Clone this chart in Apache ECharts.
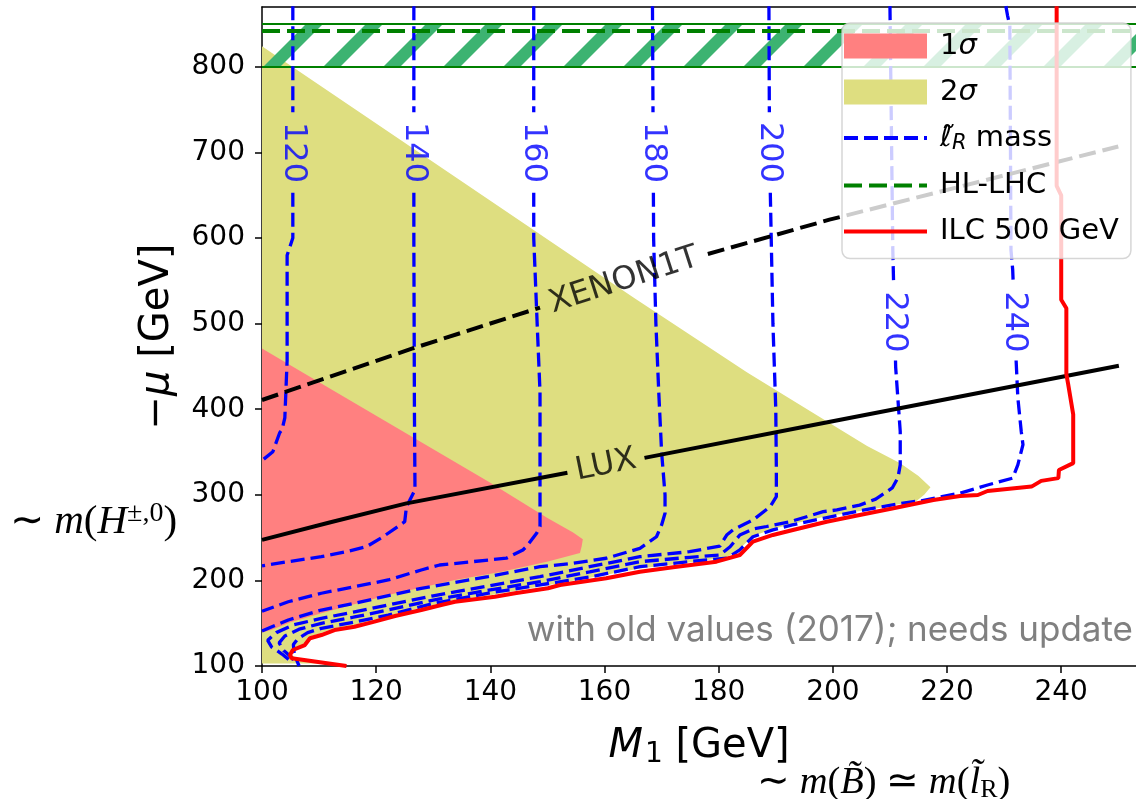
<!DOCTYPE html>
<html><head><meta charset="utf-8">
<script src="https://cdn.jsdelivr.net/npm/echarts@6/dist/echarts.min.js"></script>
<style>html,body{margin:0;padding:0;background:#fff}#c{width:1136px;height:799px}</style>
</head><body><div id="c"></div>
<script>
// ---------- data ----------
const xTicks = [100,120,140,160,180,200,220,240];
const yTicks = [100,200,300,400,500,600,700,800];
const XMIN = 100, XMAX = 253.1, YMIN = 100, YMAX = 870;

const contourLevels = [120,140,160,180,200,220,240];
const c120 = [[105.4,871],[105.4,600],[104.4,580],[104.4,457],[104,390],[103.5,376],[103.1,372.5],[101.9,350.4],[100,340]];
const c140 = [[126.6,871],[126.6,600],[126.7,400],[126.8,306],[125.3,286],[125,268.6],[121.2,251],[118.3,239.4],[114.8,233.6],[110.4,227.7],[104.6,221.9],[100,217]];
const c160 = [[147.6,871],[147.6,600],[148.2,500],[148.7,420],[148.7,263],[148.1,255],[146.3,239.4],[145.7,235.6],[142.8,226],[137,222],[131.1,218],[127.9,212.2],[122.1,200.5],[116.2,192.7],[110.4,185],[104.6,175.1],[100,164]];
const c180 = [[168.4,871],[168.6,600],[169,500],[169.5,420],[170,350],[170.6,300],[170.6,278.5],[170,264.8],[169.1,251],[166.2,237.5],[160.3,225.9],[154.5,220],[148.7,216],[139.6,204.4],[127.9,190.8],[116.2,173.3],[110.4,165.4],[104.6,153.8],[100,141]];
const c200 = [[188.8,871],[188.9,700],[189.5,500],[190,400],[190.1,330],[190.1,298],[189,286],[186,270.6],[182.5,259],[181.4,253],[180.2,240],[174.9,233.6],[166.2,227.7],[157.4,216],[148.7,204.4],[140,194],[130,182],[122.1,171.3],[116,163],[110.4,155.7],[105.5,148],[102.5,139],[101,130],[101.7,122],[103.5,114],[105,106]];
const c220 = [[210,871],[210.3,700],[210.5,586],[211,449],[211.5,402],[211.8,374],[211.8,335],[211.4,320],[210.4,308],[207.5,295],[204.7,288],[200.7,282.3],[198.3,280.3],[192.5,268.6],[188.4,263],[186,260],[183.7,253],[182,239.4],[180.2,229.7],[174.9,227],[166.2,221.9],[157.4,210],[148.7,198.6],[140,189],[130,177],[122.1,165.4],[116,157],[110.4,149.9],[106.5,143],[104,135],[103,127],[103.8,118],[105.2,110],[106,102]];
const c240 = [[230.3,871],[230.6,860],[231,848],[231.2,586],[231.5,563],[232.1,457],[232.4,413.5],[233,374],[233.3,358.7],[232.4,335],[231.5,319.5],[227.1,311.5],[222.3,302],[215.4,293],[212.9,291],[207,284.3],[198.3,272.6],[192.9,264.8],[189.5,259],[186,251],[183.7,235.6],[181.4,225.9],[174.9,222],[166.2,216],[157.4,204],[148.7,194.7],[140,185.5],[130,173],[122.1,159.6],[116,151],[110.4,144],[108,139],[106.3,132],[105.5,125],[105.6,117],[106,108],[106.5,100]];
const contours = [c120,c140,c160,c180,c200,c220,c240];
const contourLabelY = [700,700,700,700,700,502,502];

const ilc = [[239.2,871],[239.2,661],[240,650],[240,528],[240.9,518],[240.9,441],[241.2,430],[242.1,394],[242.1,337],[239.6,329],[239.5,319.5],[236.5,316.3],[234.8,309.6],[227.1,304.5],[225.4,299.8],[222.3,298.7],[217.6,294],[210.6,284.3],[204.7,276.5],[198.9,268.6],[193,258.9],[189.5,253.1],[186,245.3],[183.7,229.7],[179.6,221.9],[172,215.3],[166.2,210.2],[160.3,202.5],[152.2,194.7],[150.1,190.8],[144.3,185],[140.8,181],[133.8,175.1],[131.4,171.3],[127.9,165.4],[123.3,158.4],[119.7,151.8],[116.2,145.9],[112.7,142],[110.4,136.2],[108.4,132.4],[107.5,124.5],[105.4,118.7],[104.9,112.9],[105.2,109],[114.8,100]];

const xenon = [[100,410.8],[126.5,471.3],[176.7,578.7],[199.4,621.5],[250,707]];
const lux = [[100,247.3],[112,268],[125.3,290],[154.5,327],[197.7,383],[250.1,450.8]];
const hlLhcBand = [100, 800, XMAX, 850];
const hlLhcLine = 842;

const sigma2 = [[100,824],[165,531],[185,443],[197.7,391],[206,357],[211.8,337],[215,322],[217.1,309],[216,300],[214.7,293],[208.3,285],[198.3,274],[192.9,266],[189.5,260],[186,252],[183.7,237],[181.4,227],[174.9,221],[166.2,214],[157.4,203],[148.7,193],[140.8,183.5],[133.8,177],[127.9,168],[123.3,160.5],[119.7,154],[116.2,148],[112.7,144],[110.4,138.5],[108.4,134.5],[107.5,127],[106,121],[105.2,113],[106,109],[110,104],[110,103],[100,103]];
const sigma1 = [[100,471],[113,420],[126.5,367],[140,314],[150,273],[154.5,256],[156.2,248],[156,240],[155.7,232],[150.1,222],[142,210],[133.8,200.5],[122.1,183],[116,172],[110.4,161.6],[105,151],[101.6,142],[100,139]];

// ---------- helpers ----------
function cutGap(pts, k, lo, hi){
  const segs=[]; let cur=[];
  const ins = p => p[k]>lo && p[k]<hi;
  for (let i=0;i<pts.length;i++){
    const p=pts[i];
    if(i>0){
      const q=pts[i-1]; const cs=[];
      [lo,hi].forEach(v=>{ if((q[k]-v)*(p[k]-v)<0){ cs.push((v-q[k])/(p[k]-q[k])); } });
      cs.sort((a,b)=>a-b);
      let inside=ins(q);
      cs.forEach(t=>{
        const ip=[q[0]+t*(p[0]-q[0]), q[1]+t*(p[1]-q[1])];
        if(!inside){ cur.push(ip); segs.push(cur); cur=[]; inside=true; }
        else { cur=[ip]; inside=false; }
      });
    }
    if(!ins(p)) cur.push(p);
  }
  if(cur.length) segs.push(cur);
  return segs.filter(s=>s.length>1);
}
function interp(pts, k, v){
  for(let i=1;i<pts.length;i++){
    const q=pts[i-1], p=pts[i];
    if((q[k]-v)*(p[k]-v)<=0 && q[k]!==p[k]){
      const t=(v-q[k])/(p[k]-q[k]);
      return [q[0]+t*(p[0]-q[0]), q[1]+t*(p[1]-q[1])];
    }
  }
  return pts[0];
}

// hatch pattern
const tile = document.createElement('canvas');
tile.width = 60; tile.height = 60;
(function(){
  const g = tile.getContext('2d');
  g.fillStyle = '#3cb371';
  g.beginPath(); g.moveTo(30,0); g.lineTo(47,0); g.lineTo(0,47); g.lineTo(0,30); g.closePath(); g.fill();
  g.beginPath(); g.moveTo(60,30); g.lineTo(60,47); g.lineTo(47,60); g.lineTo(30,60); g.closePath(); g.fill();
})();

const FONT = 'DejaVu Sans';
const BLUE = '#0000ff', GREEN = '#008000', RED = '#ff0000';
const BLUE_DASH = [14,6], GREEN_DASH = [18,7], BLACK_DASH = [17,7];
const series = [];

function polySeries(name, pts, color, z){
  return {
    type:'custom', name, coordinateSystem:'cartesian2d', z, silent:true, clip:true,
    itemStyle:{color},
    data: pts,
    encode:{x:0,y:1},
    renderItem:(params, api)=>{
      if(params.dataIndex!==0) return null;
      return {type:'polygon', shape:{points: pts.map(p=>api.coord(p))}, style:{fill:color, stroke:null}};
    }
  };
}
series.push(polySeries('2σ', sigma2, '#dede80', 1));
series.push(polySeries('1σ', sigma1, '#ff8080', 1));

// hatched band
series.push({
  type:'custom', name:'band', coordinateSystem:'cartesian2d', z:1, silent:true, clip:true,
  data:[hlLhcBand],
  renderItem:(params, api)=>{
    const a = api.coord([api.value(0), api.value(3)]);
    const b = api.coord([api.value(2), api.value(1)]);
    return {type:'group', children:[
      {type:'rect', shape:{x:a[0], y:a[1], width:b[0]-a[0], height:b[1]-a[1]}, style:{fill:{image:tile, repeat:'repeat'}}},
      {type:'line', shape:{x1:a[0], y1:a[1], x2:b[0], y2:a[1]}, style:{stroke:GREEN, lineWidth:2}},
      {type:'line', shape:{x1:a[0], y1:b[1], x2:b[0], y2:b[1]}, style:{stroke:GREEN, lineWidth:2}}
    ]};
  }
});
series.push({
  type:'line', name:'HL-LHC', z:3, silent:true, symbol:'none',
  data:[[XMIN, hlLhcLine],[XMAX, hlLhcLine]],
  lineStyle:{color:GREEN, width:4, type:GREEN_DASH}, itemStyle:{color:GREEN}
});

// contours
const contourLabels = [];
contours.forEach((c,i)=>{
  const ly = contourLabelY[i];
  const gap = ly>600 ? 47 : 45;
  cutGap(c, 1, ly-gap, ly+gap).forEach(seg=>{
    series.push({type:'line', name:'lR', z:2, silent:true, symbol:'none', data:seg,
      lineStyle:{color:BLUE, width:3.3, type:BLUE_DASH}, itemStyle:{color:BLUE}});
  });
  const p = interp(c, 1, ly);
  contourLabels.push({value:[p[0], ly], name:String(contourLevels[i])});
});
series.push({
  type:'scatter', name:'clabels', z:3, silent:true, symbolSize:1, itemStyle:{color:'rgba(0,0,0,0)'},
  data: contourLabels,
  label:{show:true, position:'inside', formatter:p=>p.name, rotate:-90, color:BLUE, fontSize:32, fontFamily:FONT}
});

// XENON1T and LUX
const xenonGap = [148.7, 178.1], luxGap = [153.5, 167];
cutGap(xenon, 0, xenonGap[0], xenonGap[1]).forEach(seg=>{
  series.push({type:'line', name:'XENON1T', z:3, silent:true, symbol:'none', data:seg,
    lineStyle:{color:'#000', width:4, type:BLACK_DASH}});
});
cutGap(lux, 0, luxGap[0], luxGap[1]).forEach(seg=>{
  series.push({type:'line', name:'LUX', z:3, silent:true, symbol:'none', data:seg,
    lineStyle:{color:'#000', width:4}});
});
const xl = interp(xenon, 0, (xenonGap[0]+xenonGap[1])/2);
const ll = interp(lux, 0, (luxGap[0]+luxGap[1])/2);
series.push({
  type:'scatter', name:'llabels', z:3, silent:true, symbolSize:1, itemStyle:{color:'rgba(0,0,0,0)'},
  data:[
    {value:xl, name:'XENON1T', label:{rotate:18}},
    {value:ll, name:'LUX', label:{rotate:11.5}}
  ],
  label:{show:true, position:'inside', formatter:p=>p.name, color:'#000', fontSize:32, fontFamily:FONT}
});

// ILC
series.push({
  type:'line', name:'ILC 500 GeV', z:3, silent:true, symbol:'none', data:ilc,
  lineStyle:{color:RED, width:4}, itemStyle:{color:RED}
});

const hideSym = {color:'rgba(0,0,0,0)', borderColor:'rgba(0,0,0,0)', borderWidth:0};
const chart = echarts.init(document.getElementById('c'), null, {renderer:'canvas'});
chart.setOption({
  animation:false,
  grid:{left:262, right:0, top:7, bottom:133, show:false, containLabel:false},
  xAxis:[{
    type:'value', min:XMIN, max:XMAX, interval:20,
    axisLine:{onZero:false, lineStyle:{color:'#000', width:1.5}},
    axisTick:{length:7, lineStyle:{color:'#000', width:1.5}, customValues:xTicks},
    axisLabel:{customValues:xTicks, fontSize:28, color:'#000', fontFamily:FONT, margin:13},
    splitLine:{show:false},
    name:'{i|M}{s|1}{n| [GeV]}', nameLocation:'middle', nameGap:57,
    nameTextStyle:{rich:{
      i:{fontSize:40, fontStyle:'italic', fontFamily:FONT, color:'#000', lineHeight:48},
      s:{fontSize:28, fontFamily:FONT, color:'#000', padding:[16,0,0,2]},
      n:{fontSize:40, fontFamily:FONT, color:'#000', lineHeight:48}
    }}
  },{
    type:'value', position:'top', min:XMIN, max:XMAX,
    axisLine:{show:true, onZero:false, lineStyle:{color:'#000', width:1.5}},
    axisTick:{show:false}, axisLabel:{show:false}, splitLine:{show:false}
  }],
  yAxis:{
    type:'value', min:YMIN, max:YMAX, interval:100,
    axisLine:{onZero:false, lineStyle:{color:'#000', width:1.5}},
    axisTick:{length:7, lineStyle:{color:'#000', width:1.5}, customValues:yTicks},
    axisLabel:{customValues:yTicks, fontSize:28, color:'#000', fontFamily:FONT, margin:17},
    splitLine:{show:false},
    name:'{n|−}{i|μ}{n| [GeV]}', nameLocation:'middle', nameGap:80,
    nameTextStyle:{rich:{
      i:{fontSize:40, fontStyle:'italic', fontFamily:FONT, color:'#000', lineHeight:48},
      n:{fontSize:40, fontFamily:FONT, color:'#000', lineHeight:48}
    }}
  },
  legend:{
    z:20, orient:'vertical', left:842, top:23, itemWidth:83, itemHeight:25, itemGap:16,
    padding:[8,12,12,0], selectedMode:false,
    backgroundColor:'rgba(255,255,255,0.8)', borderColor:'rgba(204,204,204,0.8)', borderWidth:1.5, borderRadius:8,
    data:[
      {name:'1σ', icon:'rect'},
      {name:'2σ', icon:'rect'},
      {name:'lR', itemStyle:hideSym, lineStyle:{color:BLUE, width:4, type:BLUE_DASH}},
      {name:'HL-LHC', itemStyle:hideSym, lineStyle:{color:GREEN, width:4, type:GREEN_DASH}},
      {name:'ILC 500 GeV', itemStyle:hideSym, lineStyle:{color:RED, width:4}}
    ],
    formatter:n=>{
      if(n==='1σ') return '{n|1}{i|σ}';
      if(n==='2σ') return '{n|2}{i|σ}';
      if(n==='lR') return '{i|ℓ̃}{s|R}{n| mass}';
      return '{n|'+n+'}';
    },
    textStyle:{fontSize:29, fontFamily:FONT, color:'#000', lineHeight:30, padding:[0,0,0,8], rich:{
      n:{fontSize:29, fontFamily:FONT, color:'#000', lineHeight:30},
      i:{fontSize:29, fontStyle:'italic', fontFamily:FONT, color:'#000', lineHeight:30},
      s:{fontSize:21, fontStyle:'italic', fontFamily:FONT, color:'#000', padding:[12,0,0,0]}
    }}
  },
  graphic:[
    {type:'text', z:10, silent:true, style:{x:1133, y:630, text:'with old values (2017); needs update', align:'right', verticalAlign:'middle', fill:'#808080', fontSize:35, fontFamily:'Inter'}},
    {type:'text', z:10, silent:true, style:{x:10, y:522, align:'left', verticalAlign:'middle',
      text:'{n|∼ }{i|m}{n|(}{i|H}{p|±,0}{n|)}',
      rich:{
        n:{fontSize:41, fontFamily:'Liberation Serif', fill:'#000'},
        i:{fontSize:41, fontStyle:'italic', fontFamily:'Liberation Serif', fill:'#000'},
        p:{fontSize:28, fontFamily:'Liberation Serif', fill:'#000', padding:[0,0,17,0]}
      }}},
    {type:'text', z:10, silent:true, style:{x:757, y:783, align:'left', verticalAlign:'middle',
      text:'{n|∼ }{i|m}{n|(}{i|B̃}{n|) ≃ }{i|m}{n|(}{i|l̃}{s|R}{n|)}',
      rich:{
        n:{fontSize:38.5, fontFamily:'Liberation Serif', fill:'#000'},
        i:{fontSize:38.5, fontStyle:'italic', fontFamily:'Liberation Serif', fill:'#000'},
        s:{fontSize:26, fontFamily:'Liberation Serif', fill:'#000', padding:[15,0,0,0]}
      }}}
  ],
  series
});
</script>
</body></html>
